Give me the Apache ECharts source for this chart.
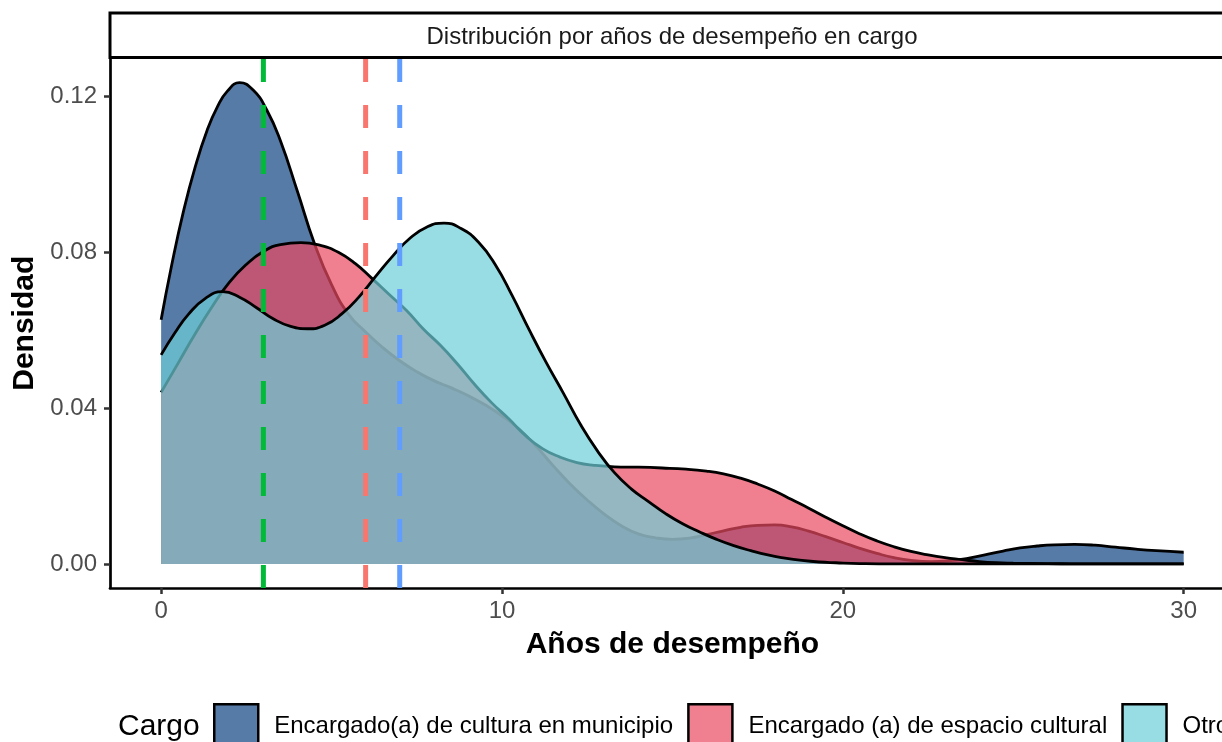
<!DOCTYPE html>
<html>
<head>
<meta charset="utf-8">
<script src="https://cdn.jsdelivr.net/npm/echarts@6/dist/echarts.min.js"></script>
<style>
html,body{margin:0;padding:0;overflow:hidden;background:#fff}
#c{width:1400px;height:742px}
</style>
</head>
<body>
<div id="c"></div>
<script>
// ---- data (years, density) ----
const categories = ["Encargado(a) de cultura en municipio", "Encargado (a) de espacio cultural", "Otro"];

const yearsMunicipio = [0,0.3,0.65,1,1.35,1.65,1.95,2.3,2.7,3.1,3.5,4,4.5,5,5.5,6,6.5,7,7.5,8,8.5,9,9.5,10,10.5,11,11.5,12,12.5,13,13.5,14,14.5,15,15.5,16,16.5,17,17.5,18,18.5,19,19.5,20,20.5,21,21.5,22,22.6,23.2,23.7,24.2,24.7,25.2,25.7,26.2,26.8,27.4,28,28.6,29.2,30];
const densMunicipio  = [0.0626,0.0762,0.0902,0.1018,0.1112,0.1172,0.1213,0.1234,0.1215,0.1164,0.1085,0.0955,0.0821,0.0716,0.0640,0.0595,0.0555,0.0521,0.0493,0.0470,0.0452,0.0432,0.0408,0.0380,0.0346,0.0302,0.0252,0.0205,0.0164,0.0128,0.0098,0.0077,0.0067,0.0063,0.0066,0.0075,0.0085,0.0094,0.0099,0.0100,0.0095,0.0084,0.0070,0.0055,0.0040,0.0027,0.0016,0.0009,0.0006,0.0009,0.0015,0.0024,0.0033,0.0041,0.0046,0.0049,0.0050,0.0048,0.0043,0.0038,0.0034,0.0030];

const yearsEspacio = [0,0.5,1,1.5,2,2.5,3,3.5,4.1,4.7,5.2,5.7,6.2,6.7,7.2,7.7,8.2,8.7,9.2,9.7,10.2,10.7,11.2,11.7,12.2,12.7,13.3,14,14.7,15.4,16,16.5,17,17.5,18,18.5,19,19.5,20,20.5,21,21.5,22,22.5,23,23.5,24,24.5,25,26,27,30];
const densEspacio  = [0.0440,0.0515,0.0590,0.0660,0.0722,0.0768,0.0801,0.0819,0.0824,0.0816,0.0799,0.0770,0.0731,0.0690,0.0650,0.0602,0.0560,0.0512,0.0460,0.0413,0.0372,0.0328,0.0295,0.0274,0.0260,0.0253,0.0249,0.0248,0.0246,0.0243,0.0238,0.0231,0.0220,0.0205,0.0187,0.0165,0.0143,0.0120,0.0098,0.0077,0.0059,0.0044,0.0032,0.0023,0.0016,0.0011,0.0006,0.0003,0.0002,0.0001,0,0];

const yearsOtro = [0,0.4,0.8,1.3,1.8,2.3,2.8,3.3,3.8,4.3,4.8,5.3,5.8,6.3,6.8,7.3,7.8,8.3,8.8,9.3,9.8,10.3,10.8,11.3,11.8,12.3,12.8,13.3,13.8,14.3,14.8,15.3,15.8,16.3,16.8,17.3,17.8,18.3,18.8,19.3,19.8,20.5,21.5,30];
const densOtro  = [0.0536,0.0592,0.0640,0.0681,0.0698,0.0684,0.0657,0.0628,0.0609,0.0603,0.0612,0.0641,0.0684,0.0738,0.0790,0.0835,0.0864,0.0874,0.0860,0.0826,0.0768,0.0688,0.0600,0.0516,0.0438,0.0358,0.0290,0.0234,0.0192,0.0160,0.0129,0.0103,0.0082,0.0063,0.0047,0.0034,0.0023,0.0015,0.0009,0.0005,0.0003,0.0001,0,0];

// median years per group (dashed lines)
const medianYears = [3, 6, 7];

const xTicks = [0, 10, 20, 30];
const yTicks = [0, 0.04, 0.08, 0.12];

const stripTitle = "Distribución por años de desempeño en cargo";
const xTitle = "Años de desempeño";
const yTitle = "Densidad";
const legendTitle = "Cargo";

// ---- styling ----
const FONT = '"Liberation Sans", Arial, Helvetica, sans-serif';
const fills = ['rgba(15,67,129,0.7)', 'rgba(233,72,95,0.7)', 'rgba(108,206,215,0.7)'];
const vlineColors = ['#00BA38', '#F8766D', '#619CFF'];
const X_MIN = -1.5, X_MAX = 31.5;
const Y_MIN = -0.00617, Y_MAX = 0.1296;

const groups = [[yearsMunicipio, densMunicipio], [yearsEspacio, densEspacio], [yearsOtro, densOtro]];

const series = [];
groups.forEach(([xs, ys], k) => {
  series.push({
    type: 'line',
    name: categories[k],
    data: xs.map((x, i) => [x, ys[i]]),
    symbol: 'none',
    showSymbol: false,
    smooth: 0.5,
    lineStyle: {color: '#000', width: 2.8},
    areaStyle: {color: fills[k], opacity: 1},
    emphasis: {disabled: true},
    silent: true,
    animation: false,
    z: 2 + k
  });
});
medianYears.forEach((m, k) => {
  series.push({
    type: 'line',
    name: 'vline' + k,
    data: [[m, Y_MIN], [m, Y_MAX]],
    symbol: 'none',
    lineStyle: {color: vlineColors[k], width: 5, type: [23, 23], cap: 'butt'},
    emphasis: {disabled: true},
    silent: true,
    animation: false,
    z: 8
  });
});

const chart = echarts.init(document.getElementById('c'), null, {renderer: 'canvas'});
chart.setOption({
  animation: false,
  backgroundColor: '#fff',
  grid: {left: 110, top: 58.5, right: 1400 - 1234.8, bottom: 742 - 588, containLabel: false},
  xAxis: {
    type: 'value', min: X_MIN, max: X_MAX,
    splitLine: {show: false},
    axisLine: {show: true, onZero: false, lineStyle: {color: '#000', width: 2.7}},
    axisTick: {show: true, customValues: xTicks, length: 6, lineStyle: {color: '#333', width: 2.5}},
    axisLabel: {customValues: xTicks, fontSize: 24, color: '#4D4D4D', margin: 11, fontFamily: FONT,
      formatter: v => String(v)},
    name: xTitle, nameLocation: 'middle', nameGap: 42,
    nameTextStyle: {fontSize: 30, fontWeight: 'bold', color: '#000', fontFamily: FONT, lineHeight: 30}
  },
  yAxis: {
    type: 'value', min: Y_MIN, max: Y_MAX,
    splitLine: {show: false},
    axisLine: {show: true, onZero: false, lineStyle: {color: '#000', width: 2.7}},
    axisTick: {show: true, customValues: yTicks, length: 6, lineStyle: {color: '#333', width: 2.5}},
    axisLabel: {customValues: yTicks, fontSize: 24, color: '#4D4D4D', margin: 13, fontFamily: FONT,
      formatter: v => v.toFixed(2)},
    name: yTitle, nameLocation: 'middle', nameGap: 57, nameRotate: 90,
    nameTextStyle: {fontSize: 30, fontWeight: 'bold', color: '#000', fontFamily: FONT, lineHeight: 30}
  },
  legend: {
    left: 213, top: 703, orient: 'horizontal', padding: 0,
    itemWidth: 44, itemHeight: 44, itemGap: 14,
    selectedMode: false,
    data: categories.map((c, k) => ({
      name: c, icon: 'rect',
      itemStyle: {color: fills[k], borderColor: '#000', borderWidth: 2.5}
    })),
    textStyle: {fontSize: 24, color: '#000', fontFamily: FONT, padding: [0, 0, 0, 11], lineHeight: 24}
  },
  graphic: [
    {type: 'rect', shape: {x: 110, y: 13, width: 1125, height: 44.5},
     style: {fill: '#fff', stroke: '#000', lineWidth: 3}, z: 10},
    {type: 'text', z: 11, style: {text: stripTitle, x: 672, y: 37, align: 'center', verticalAlign: 'middle',
      font: '24px ' + FONT, fill: '#1A1A1A'}},
    {type: 'text', z: 11, style: {text: legendTitle, x: 118, y: 727, align: 'left', verticalAlign: 'middle',
      font: '30px ' + FONT, fill: '#000'}}
  ],
  series: series
});
</script>
</body>
</html>
